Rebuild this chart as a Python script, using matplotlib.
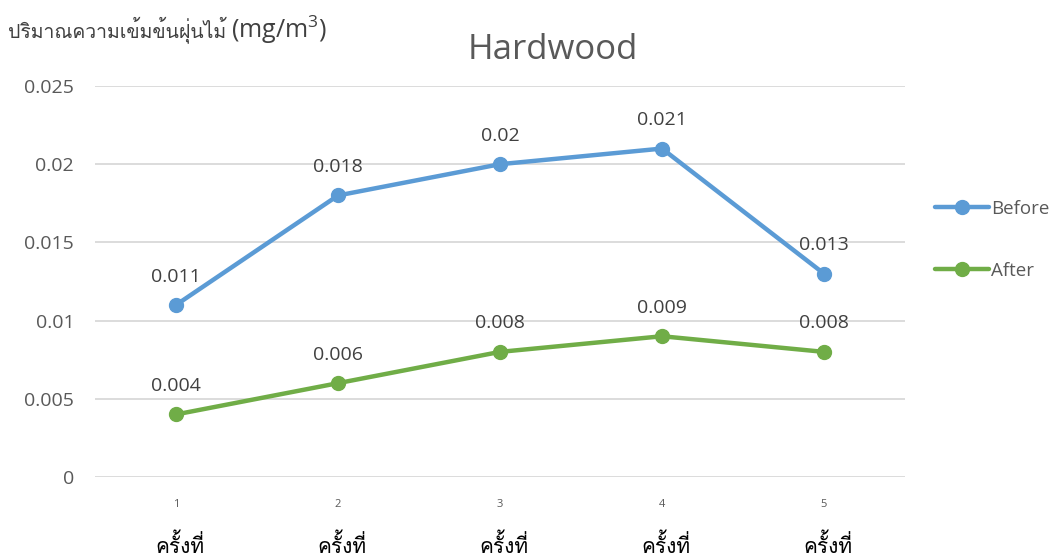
import matplotlib
matplotlib.use("Agg")
import matplotlib.pyplot as plt
from matplotlib import font_manager
from matplotlib.ft2font import FT2Font

# Data
rounds = ["1", "2", "3", "4", "5"]
round_word = "ครั้งที่"
before = [0.011, 0.018, 0.020, 0.021, 0.013]
after = [0.004, 0.006, 0.008, 0.009, 0.008]
before_labels = ["0.011", "0.018", "0.02", "0.021", "0.013"]
after_labels = ["0.004", "0.006", "0.008", "0.009", "0.008"]
y_ticks = [0, 0.005, 0.01, 0.015, 0.02, 0.025]
y_tick_labels = ["0", "0.005", "0.01", "0.015", "0.02", "0.025"]
title = "Hardwood"
y_title_thai = "ปริมาณความเข้มข้นฝุ่นไม้"
y_title_unit = r"(mg/m$^{3}$)"


def thai_families():
    names = []
    for f in font_manager.fontManager.ttflist:
        try:
            cmap = FT2Font(f.fname).get_charmap()
        except Exception:
            continue
        if 0x0E01 in cmap and f.name not in names:
            names.append(f.name)
    return names


thai = thai_families()
base = ["Open Sans", "DejaVu Sans"]
fam = base + thai + ["Noto Sans CJK SC"]

plt.rcParams["mathtext.fontset"] = "custom"
plt.rcParams["mathtext.rm"] = "Open Sans"
plt.rcParams["mathtext.it"] = "Open Sans"
plt.rcParams["mathtext.bf"] = "Open Sans:bold"

BLUE = "#5B9BD5"
GREEN = "#70AD47"
GREY = "#595959"

fig = plt.figure(figsize=(10.54, 5.57), dpi=100)
ax = fig.add_axes([95 / 1054, 1 - 477 / 557, 810 / 1054, 391 / 557])

x = list(range(len(rounds)))
ax.plot(x, before, color=BLUE, lw=3.2, marker="o", ms=10, label="Before",
        solid_capstyle="round", zorder=3)
ax.plot(x, after, color=GREEN, lw=3.2, marker="o", ms=10, label="After",
        solid_capstyle="round", zorder=3)

for xi, v, t in zip(x, before, before_labels):
    ax.annotate(t, (xi, v), xytext=(0, 14), textcoords="offset points",
                ha="center", va="bottom", fontsize=14, color="#404040",
                family=fam)
for xi, v, t in zip(x, after, after_labels):
    ax.annotate(t, (xi, v), xytext=(0, 14), textcoords="offset points",
                ha="center", va="bottom", fontsize=14, color="#404040",
                family=fam)

ax.set_xlim(-0.5, len(rounds) - 0.5)
ax.set_ylim(0, 0.025)
ax.set_yticks(y_ticks)
ax.set_yticklabels(y_tick_labels, family=fam, fontsize=14, color=GREY)
ax.set_xticks(x)
ax.set_xticklabels(rounds, family=fam, fontsize=8, color=GREY)
ax.tick_params(axis="both", length=0)
ax.tick_params(axis="y", pad=15)
ax.tick_params(axis="x", pad=16)
ax.grid(axis="y", color="#D9D9D9", lw=1.3)
ax.set_axisbelow(True)
for s in ax.spines.values():
    s.set_visible(False)

# Thai word under each round number
for xi in x:
    ax.annotate(round_word, (xi, 0), xycoords=("data", "axes fraction"),
                xytext=(3, -49), textcoords="offset points", ha="center",
                va="center", fontsize=15, color="black", family=thai + fam)

fig.text(553 / 1054, 1 - 50 / 557, title, ha="center", va="center",
         fontsize=25, color=GREY, family=fam)

# Axis title in the top-left corner: Thai words followed by the unit
t1 = fig.text(8 / 1054, 1 - 30 / 557, y_title_thai, ha="left", va="center",
              fontsize=14, color="#404040", family=thai + fam)
fig.canvas.draw()
bb = t1.get_window_extent()
fig.text((bb.x1 + 5) / 1054, 1 - 30 / 557, y_title_unit, ha="left",
         va="center", fontsize=18, color="#404040", family=fam)

leg = fig.legend(loc="center left", bbox_to_anchor=(918 / 1054, 1 - 240 / 557),
                 frameon=False, labelspacing=2.35, handlelength=2.9,
                 handletextpad=0.1, prop={"family": fam, "size": 13.5})
for t in leg.get_texts():
    t.set_color(GREY)

fig.savefig("out.png", dpi=100, facecolor="white")
